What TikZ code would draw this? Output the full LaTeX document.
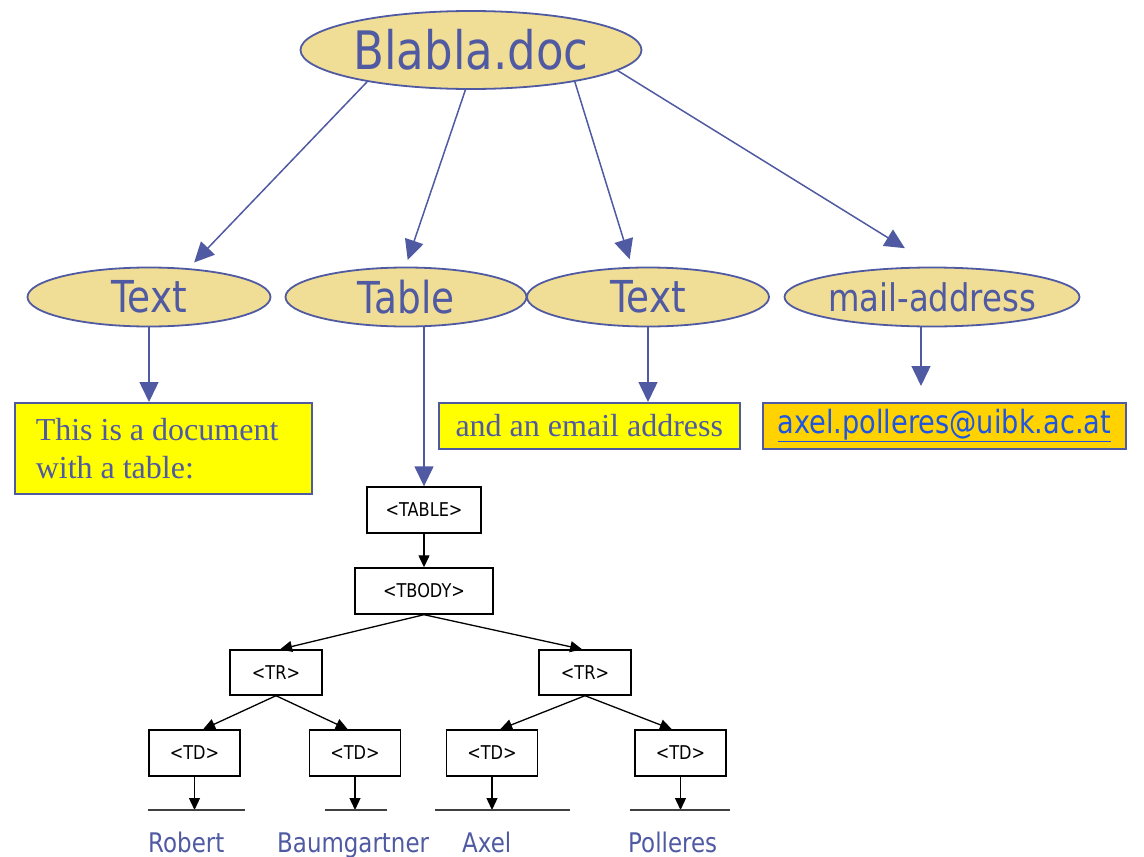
\documentclass[tikz,border=0pt]{standalone}
\usepackage{fontspec}
\setmainfont{Liberation Serif}
\newfontfamily\tahoma[FakeStretch=0.85]{DejaVu Sans}
\usetikzlibrary{shapes.geometric,arrows.meta}

\definecolor{ovalfill}{RGB}{240,221,150}
\definecolor{inkblue}{RGB}{80,90,162}
\definecolor{boxyellow}{RGB}{255,255,0}
\definecolor{mailgold}{RGB}{255,210,0}
\definecolor{linkblue}{RGB}{30,85,225}

\begin{document}
\begin{tikzpicture}[x=1pt, y=-1pt,
	oval/.style={ellipse, draw=inkblue, line width=1.8pt, fill=ovalfill, text=inkblue, inner sep=0pt},
	note/.style={rectangle, draw=inkblue, line width=1.5pt, fill=boxyellow, text=inkblue, font=\fontsize{32}{38}\selectfont},
	tag/.style={rectangle, draw=black, line width=1.4pt, fill=white, minimum height=46pt, font=\tahoma\fontsize{19}{22}\selectfont},
	leaf/.style={inner sep=0pt, minimum height=0pt},
	person/.style={anchor=base west, inner sep=0pt, text=inkblue, font=\tahoma\fontsize{27}{30}\selectfont},
	link/.style={-{Triangle[length=20pt,width=19pt]}, draw=inkblue, line width=1.5pt},
	treearrow/.style={-{Triangle[length=12pt,width=11pt]}, line width=1.3pt}]

		\useasboundingbox (0,0) rectangle (1144,857);

		% document
		\node [oval, minimum width=341pt, minimum height=78pt, font=\tahoma\fontsize{53}{60}\selectfont] (doc) at (471,50) {Blabla.doc};

		% parts of the document
		\foreach \n/\x/\w/\l in {text1/149/243/Text, table/406/241/Table, text2/648/242/Text}
			\node [oval, minimum width=\w pt, minimum height=59pt, font=\tahoma\fontsize{44}{50}\selectfont] (\n) at (\x,297) {\l};
		\node [oval, minimum width=295pt, minimum height=59pt, font=\tahoma\fontsize{38}{44}\selectfont] (mail) at (932,297) {mail-address};

		% contents
		\node [note, anchor=north west, minimum width=297pt, minimum height=91pt, text width=255pt, inner xsep=21pt, align=flush left] (note1) at (14,402) {This is a document\\with a table:};
		\node [note, anchor=north west, minimum width=301pt, minimum height=46pt] (note2) at (438,402) {and an email address};
		\node [note, fill=mailgold, anchor=north west, minimum width=363pt, minimum height=46pt, text=linkblue, font=\tahoma\fontsize{32}{36}\selectfont] (mailbox) at (762,402) {\underline{axel.polleres@uibk.ac.at}};
		\coordinate (mailtip) at (921,386);

		% table tree
		\node [tag, minimum width=114pt] (tablebox) at (424,510) {<TABLE>};
		\node [tag, minimum width=138pt] (tbody) at (424,591) {<TBODY>};
		\foreach \n/\x in {l/276, r/585}
			\node [tag, minimum width=92pt, minimum height=45pt] (tr-\n) at (\x,672.5) {<TR>};
		\foreach \n/\x in {1/194.5, 2/355, 3/492, 4/680.5}
			\node [tag, minimum width=91pt] (td-\n) at (\x,753) {<TD>};
		\foreach \n/\x/\w in {1/196.5/97, 2/356/62, 3/502.5/135, 4/680/100}
			\node [leaf, minimum width=\w pt] (leaf-\n) at (\x,810) {};

		% cell texts
		\foreach \n/\x/\l in {1/148/Robert, 2/277/Baumgartner, 3/462/Axel, 4/628/Polleres}
			\node [person] (person-\n) at (\x,852) {\l};

		% lines from document to parts
		\draw [link, shorten >=8pt] (doc.197) -- (text1.36);
		\draw [link, shorten >=7pt] (doc.262) -- (table.91);
		\draw [link, shorten >=8pt] (doc.343) -- (text2.118);
		\draw [link, shorten >=35pt] (doc.352) -- (mail.85);

		% lines from parts to contents
		\draw [link] (text1.south) -- (text1.south |- note1.north);
		\draw [link] (table.south -| tablebox.north) -- (tablebox.north);
		\draw [link] (text2.south) -- (text2.south |- note2.north);
		\draw [link] (mail.south -| mailtip) -- (mailtip);

		% lines in the table tree
		\draw [treearrow] (tablebox) -- (tbody);
		\draw [treearrow] (tbody.south) -- (tr-l.80);
		\draw [treearrow] (tbody.south) -- (tr-r.97);
		\draw [treearrow] (tr-l.south) -- (td-1.70);
		\draw [treearrow] (tr-l.south) -- (td-2.107);
		\draw [treearrow] (tr-r.south) -- (td-3.71);
		\draw [treearrow] (tr-r.south) -- (td-4.110);
		\foreach \n in {1,...,4} {
			\draw [treearrow] (td-\n) -- (td-\n |- leaf-\n);
			\draw [line width=1.5pt, black!75] (leaf-\n.west) -- (leaf-\n.east);
		}

\end{tikzpicture}
\end{document}
